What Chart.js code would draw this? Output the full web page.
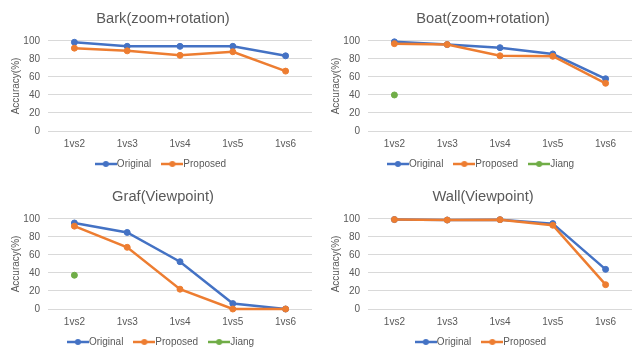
<!DOCTYPE html>
<html>
<head>
<meta charset="utf-8">
<script src="https://cdn.jsdelivr.net/npm/chart.js@4/dist/chart.umd.min.js"></script>
<style>
  html, body { margin: 0; padding: 0; background: #fff; width: 632px; height: 347px; overflow: hidden; }
  canvas { position: absolute; }
</style>
</head>
<body>
<canvas id="c1" width="316" height="185" style="left:0px;top:0px"></canvas>
<canvas id="c2" width="316" height="185" style="left:320px;top:0px"></canvas>
<canvas id="c3" width="316" height="185" style="left:0px;top:178px"></canvas>
<canvas id="c4" width="316" height="185" style="left:320px;top:178px"></canvas>
<script>
const categories = ['1vs2', '1vs3', '1vs4', '1vs5', '1vs6'];
const yTicks = [0, 20, 40, 60, 80, 100];

const barkTitle = 'Bark(zoom+rotation)';
const barkOriginal = [98.5, 94, 94, 94, 83.5];
const barkProposed = [92, 89, 84, 88, 66.5];

const boatTitle = 'Boat(zoom+rotation)';
const boatOriginal = [99, 96, 92.5, 85.5, 58];
const boatProposed = [97, 96, 83.5, 83, 53];
const boatJiang = [40, null, null, null, null];

const grafTitle = 'Graf(Viewpoint)';
const grafOriginal = [95.5, 85, 52.5, 6, 0];
const grafProposed = [92, 68.5, 22, 0, 0];
const grafJiang = [37.5, null, null, null, null];

const wallTitle = 'Wall(Viewpoint)';
const wallOriginal = [99.3, 98.8, 99.2, 94.8, 44];
const wallProposed = [99.3, 98.8, 99.2, 93, 27];

const BLUE = '#4472C4', ORANGE = '#ED7D31', GREEN = '#70AD47';
const TEXT = '#595959', GRID = '#D9D9D9';
const FONT = "'Liberation Sans', Arial, sans-serif";

function legendIcon(color) {
  const c = document.createElement('canvas');
  c.width = 22; c.height = 8;
  const g = c.getContext('2d');
  g.strokeStyle = color; g.lineWidth = 2.5;
  g.beginPath(); g.moveTo(0, 4); g.lineTo(22, 4); g.stroke();
  g.fillStyle = color;
  g.beginPath(); g.arc(11, 4, 3, 0, Math.PI * 2); g.fill();
  return c;
}

const legendShift = {
  id: 'legendShift',
  afterLayout(chart) {
    const l = chart.legend;
    if (l) { l.top -= 6; l.bottom -= 6; }
  }
};

function series(label, data, color, order) {
  return {
    label, data,
    borderColor: color, backgroundColor: color,
    pointBackgroundColor: color, pointBorderColor: color,
    borderWidth: 2.5, pointRadius: 3, pointBorderWidth: 1, pointHoverRadius: 3,
    tension: 0, clip: false, spanGaps: false, order
  };
}

function makeChart(id, title, datasets) {
  new Chart(document.getElementById(id), {
    type: 'line',
    data: { labels: categories, datasets },
    plugins: [legendShift],
    options: {
      responsive: false,
      animation: false,
      events: [],
      layout: { padding: { left: 10, right: 0, top: 0, bottom: 0 } },
      plugins: {
        tooltip: { enabled: false },
        title: {
          display: true, text: title, color: TEXT,
          font: { family: FONT, size: 14.7, weight: 'normal' },
          padding: { top: 10, bottom: 13.3 }
        },
        legend: {
          position: 'bottom',
          labels: {
            usePointStyle: true, pointStyleWidth: 12, padding: 15,
            color: TEXT, font: { family: FONT, size: 10 },
            generateLabels(chart) {
              return chart.data.datasets.map((ds, i) => ({
                text: ds.label,
                pointStyle: legendIcon(ds.borderColor),
                fillStyle: ds.borderColor, strokeStyle: ds.borderColor,
                lineWidth: 0, hidden: false, datasetIndex: i, fontColor: TEXT
              }));
            }
          }
        }
      },
      scales: {
        x: {
          offset: true,
          grid: { display: false, drawTicks: false },
          border: { display: false },
          ticks: { color: TEXT, font: { family: FONT, size: 10 }, padding: 7, maxRotation: 0 },
          afterFit(s) { s.height = 19; }
        },
        y: {
          min: 0, max: 100,
          afterBuildTicks(s) { s.ticks = yTicks.map(v => ({ value: v })); },
          grid: { color: GRID, lineWidth: 1, drawTicks: false },
          border: { display: false },
          ticks: { color: TEXT, font: { family: FONT, size: 10 }, padding: 8 },
          title: { display: true, text: 'Accuracy(%)', color: TEXT, font: { family: FONT, size: 10 }, padding: 0 },
          afterFit(s) { s.width = 38; }
        }
      }
    }
  });
}

makeChart('c1', barkTitle, [
  series('Original', barkOriginal, BLUE, 2),
  series('Proposed', barkProposed, ORANGE, 1)
]);
makeChart('c2', boatTitle, [
  series('Original', boatOriginal, BLUE, 2),
  series('Proposed', boatProposed, ORANGE, 1),
  series('Jiang', boatJiang, GREEN, 0)
]);
makeChart('c3', grafTitle, [
  series('Original', grafOriginal, BLUE, 2),
  series('Proposed', grafProposed, ORANGE, 1),
  series('Jiang', grafJiang, GREEN, 0)
]);
makeChart('c4', wallTitle, [
  series('Original', wallOriginal, BLUE, 2),
  series('Proposed', wallProposed, ORANGE, 1)
]);
</script>
</body>
</html>
